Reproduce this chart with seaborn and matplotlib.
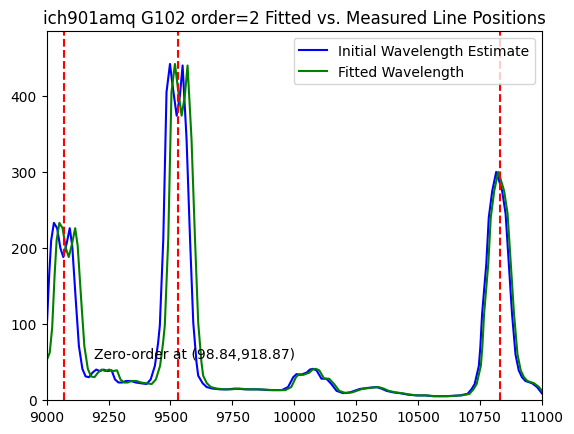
import pandas as pd
import seaborn as sns
import matplotlib.pyplot as plt

# flux shared by both wavelength solutions
flux = [50, 62, 95, 165, 210, 233, 226, 200, 188, 205, 226, 203, 133, 71, 41, 31, 30, 36,
        40, 38, 40, 38, 39, 27, 23, 23, 25, 25, 23, 22, 21, 27, 45, 75, 98, 212, 405, 442,
        410, 374, 400, 440, 343, 212, 102, 50, 32, 22, 17, 15, 14, 14, 15, 14, 14, 13, 13,
        17, 30, 34, 33, 36, 40, 41, 39, 28, 28, 21, 12, 9, 10, 14.5, 16, 17, 15, 12, 10, 9,
        7, 6, 6, 5, 5, 6, 8, 14, 21, 45, 70, 113, 179, 240, 275, 300, 286, 275, 245, 179,
        113, 60, 39, 30, 25, 22, 17, 9, 5]

wave_initial = [8975, 8990, 9000, 9010, 9018, 9029, 9042, 9055, 9067, 9080, 9093, 9103, 9117,
                9130, 9144, 9157, 9171, 9185, 9200, 9215, 9230, 9245, 9262, 9276, 9290, 9305,
                9320, 9340, 9360, 9380, 9403, 9420, 9437, 9450, 9457, 9471, 9484, 9498, 9510,
                9525, 9538, 9549, 9565, 9579, 9592, 9605, 9612, 9630, 9646, 9670, 9700, 9730,
                9760, 9800, 9850, 9900, 9950, 9975, 9996, 10009, 10025, 10050, 10063, 10076,
                10090, 10110, 10130, 10150, 10171, 10197, 10225, 10265, 10300, 10332, 10352,
                10373, 10400, 10426, 10460, 10494, 10530, 10560, 10615, 10668, 10700, 10716,
                10729, 10746, 10752, 10759, 10776, 10786, 10800, 10816, 10830, 10840, 10854,
                10867, 10880, 10894, 10907, 10920, 10934, 10961, 10981, 11000, 11010]

wave_fitted = [8997, 9012, 9022, 9032, 9040, 9051, 9064, 9077, 9089, 9102, 9115, 9125, 9139,
               9152, 9166, 9179, 9193, 9207, 9222, 9237, 9252, 9267, 9284, 9298, 9312, 9327,
               9342, 9362, 9381, 9401, 9424, 9441, 9458, 9470, 9477, 9491, 9504, 9518, 9530,
               9545, 9558, 9569, 9585, 9599, 9612, 9625, 9632, 9647, 9663, 9687, 9717, 9747,
               9777, 9814, 9864, 9914, 9964, 9988, 10007, 10020, 10036, 10061, 10074, 10087,
               10101, 10121, 10141, 10161, 10182, 10208, 10234, 10274, 10309, 10341, 10361,
               10382, 10409, 10435, 10469, 10503, 10538, 10568, 10623, 10676, 10708, 10724,
               10737, 10754, 10760, 10767, 10784, 10794, 10808, 10824, 10838, 10848, 10862,
               10875, 10888, 10902, 10915, 10928, 10942, 10969, 10989, 11008, 11018]

line_positions = [9069, 9532, 10830]

df = pd.DataFrame({'initial': wave_initial, 'fitted': wave_fitted, 'flux': flux})

fig = plt.figure(figsize=(5.74, 4.35), dpi=100)
ax = fig.add_axes([0.0814, 0.0782, 0.8624, 0.8476])

sns.lineplot(data=df, x='initial', y='flux', color='b', label='Initial Wavelength Estimate',
             estimator=None, ax=ax)
sns.lineplot(data=df, x='fitted', y='flux', color='g', label='Fitted Wavelength',
             estimator=None, ax=ax)

for w in line_positions:
    ax.axvline(w, color='r', linestyle='--')

ax.text(9190, 55, 'Zero-order at (98.84,918.87)', fontsize=10)

ax.set_xlim(9000, 11000)
ax.set_ylim(0, 485)
ax.set_xlabel('')
ax.set_ylabel('')
ax.set_title('ich901amq G102 order=2 Fitted vs. Measured Line Positions')
ax.legend(loc='upper right')

fig.savefig('out.png', dpi=100)
